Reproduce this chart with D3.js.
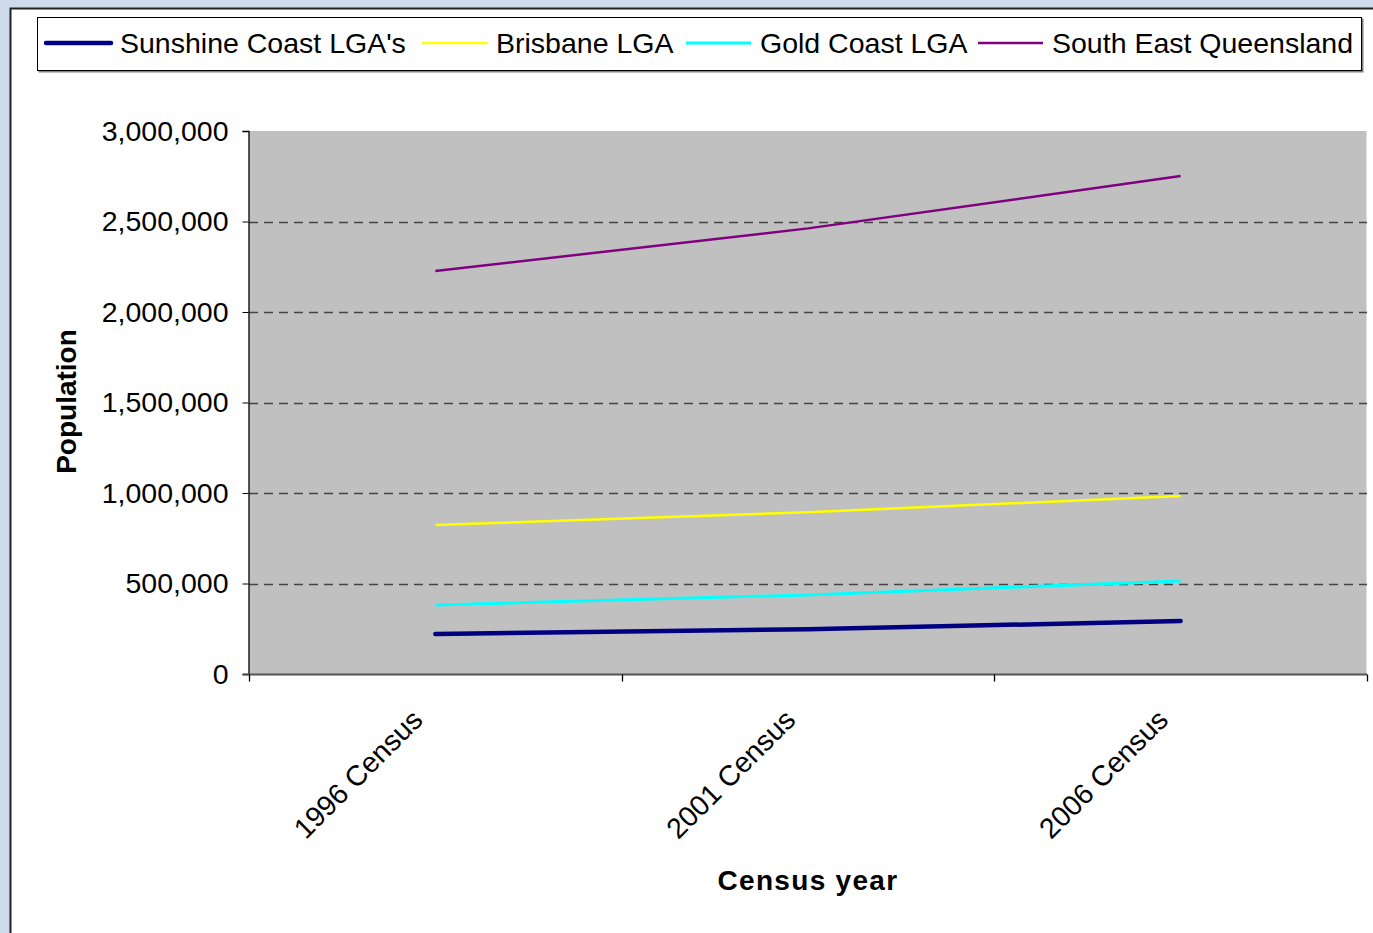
<!DOCTYPE html>
<html><head><meta charset="utf-8">
<script src="https://cdn.jsdelivr.net/npm/d3@7"></script>
<style>
html,body{margin:0;padding:0;background:#cfdbec;}
svg{display:block;font-family:"Liberation Sans",Arial,sans-serif;}
</style></head>
<body>
<svg id="chart" width="1373" height="933"></svg>
<script>
const categories = ["1996 Census", "2001 Census", "2006 Census"];
const seriesNames = ["Sunshine Coast LGA's", "Brisbane LGA", "Gold Coast LGA", "South East Queensland"];
const sunshineCoast = [221000, 247000, 293000];
const brisbane = [823000, 894000, 983000];
const goldCoast = [381000, 437000, 514000];
const seq = [2226000, 2462000, 2751000];
const yTicks = [0, 500000, 1000000, 1500000, 2000000, 2500000, 3000000];
const colors = ["#000080", "#ffff00", "#00ffff", "#800080"];
const widths = [4.5, 2.5, 3, 2.5];

const series = [sunshineCoast, brisbane, goldCoast, seq];
const svg = d3.select("#chart");

// outer panel
svg.append("rect").attr("x", 0).attr("y", 0).attr("width", 1373).attr("height", 933).attr("fill", "#cfdbec");
svg.append("rect").attr("x", 10.5).attr("y", 8.5).attr("width", 1400).attr("height", 1000)
  .attr("fill", "#fff").attr("stroke", "#222").attr("stroke-width", 2);

const L = 249, R = 1367, T = 131, B = 674;
const x = d3.scaleBand().domain(categories).range([L, R]);
const y = d3.scaleLinear().domain([0, 3000000]).range([B, T]);

// plot area
svg.append("rect").attr("x", L).attr("y", T).attr("width", R - L).attr("height", B - T).attr("fill", "#c0c0c0");
svg.append("line").attr("x1", R - 0.5).attr("x2", R - 0.5).attr("y1", T).attr("y2", B).attr("stroke", "#e0e0e0").attr("stroke-width", 1);

// gridlines
svg.append("g").selectAll("line").data(yTicks.filter(d => d > 0 && d < 3000000)).join("line")
  .attr("x1", L).attr("x2", R).attr("y1", d => Math.round(y(d)) + 0.5).attr("y2", d => Math.round(y(d)) + 0.5)
  .attr("stroke", "#444").attr("stroke-width", 1.3).attr("stroke-dasharray", "9,6");

// y axis
const yAxis = d3.axisLeft(y).tickValues(yTicks).tickFormat(d3.format(",")).tickSize(6).tickPadding(14);
const gy = svg.append("g").attr("transform", `translate(${L - 0.5},0)`).call(yAxis);
gy.select(".domain").attr("stroke", "#000").attr("stroke-width", 1.3);
gy.selectAll(".tick line").attr("stroke", "#000");
gy.selectAll("text").attr("font-size", 28.5).attr("fill", "#000").attr("font-family", "Liberation Sans, Arial, sans-serif");

// x axis: ticks at band boundaries
const gx = svg.append("g").attr("transform", `translate(0,${B + 0.5})`);
gx.append("line").attr("x1", L - 6).attr("x2", R).attr("y1", 0).attr("y2", 0).attr("stroke", "#555").attr("stroke-width", 2);
const bounds = categories.map(c => x(c)).concat([x(categories[categories.length - 1]) + x.bandwidth()]);
gx.selectAll("line.tk").data(bounds).join("line").attr("class", "tk")
  .attr("x1", d => Math.round(d) + 0.5).attr("x2", d => Math.round(d) + 0.5).attr("y1", 0).attr("y2", 7)
  .attr("stroke", "#000").attr("stroke-width", 1.3);
gx.selectAll("text").data(categories).join("text")
  .attr("transform", d => `translate(${x(d) + x.bandwidth() / 2 - 18},${40}) rotate(-45)`)
  .attr("text-anchor", "end").attr("dy", "0.35em")
  .attr("font-size", 28.5).attr("fill", "#000").text(d => d);

// lines
const line = d3.line().x((d, i) => x(categories[i]) + x.bandwidth() / 2).y(d => y(d));
svg.append("g").selectAll("path").data(series).join("path")
  .attr("d", d => line(d)).attr("fill", "none")
  .attr("stroke", (d, i) => colors[i]).attr("stroke-width", (d, i) => widths[i])
  .attr("stroke-linecap", (d, i) => i === 0 ? "round" : "butt");

// axis titles
svg.append("text").attr("transform", `translate(76,${(T + B) / 2 - 1}) rotate(-90)`)
  .attr("text-anchor", "middle").attr("font-size", 28).attr("font-weight", "bold").text("Population");
svg.append("text").attr("x", 808).attr("y", 890).attr("text-anchor", "middle")
  .attr("font-size", 28).attr("font-weight", "bold").attr("letter-spacing", 1.3).text("Census year");

// legend
svg.append("rect").attr("x", 38.5).attr("y", 18.5).attr("width", 1325).attr("height", 54)
  .attr("fill", "#808080");
svg.append("rect").attr("x", 37.5).attr("y", 17.5).attr("width", 1324).attr("height", 53)
  .attr("fill", "#fff").attr("stroke", "#000").attr("stroke-width", 1);
const legX = [46, 422, 686, 978];
const lg = svg.append("g").selectAll("g").data(seriesNames).join("g")
  .attr("transform", (d, i) => `translate(${legX[i]},43)`);
lg.append("line").attr("x1", 0).attr("x2", 65).attr("y1", 0).attr("y2", 0)
  .attr("stroke", (d, i) => colors[i]).attr("stroke-width", (d, i) => widths[i])
  .attr("stroke-linecap", (d, i) => i === 0 ? "round" : "butt");
lg.append("text").attr("x", 74).attr("y", 0).attr("dy", "0.35em")
  .attr("font-size", 28.5).attr("fill", "#000").text(d => d);
</script>
</body></html>
